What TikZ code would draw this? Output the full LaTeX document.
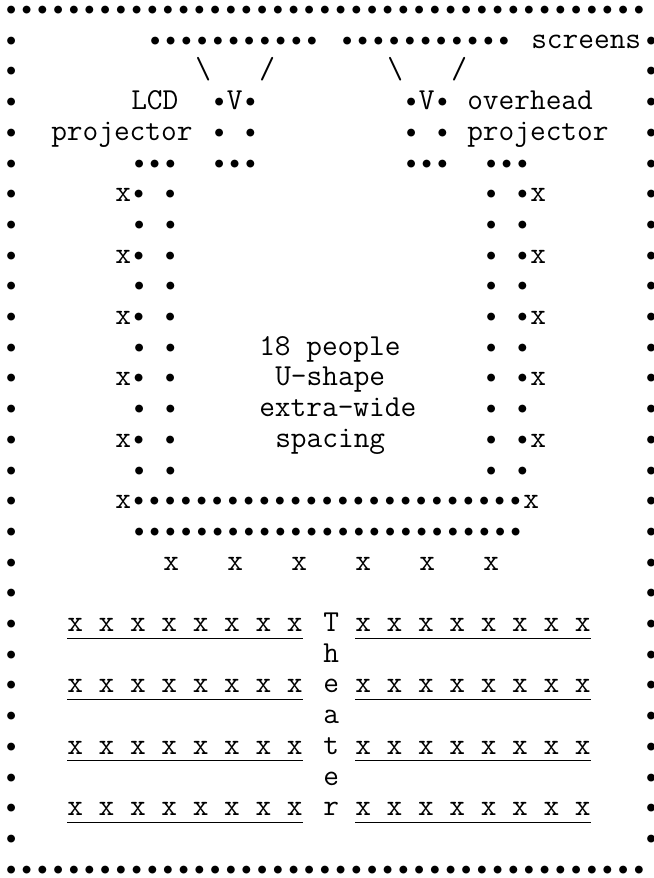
\documentclass[tikz,border=0pt]{standalone}
\newcommand\artfont{\fontsize{22.857pt}{24pt}\selectfont\ttfamily}

\begin{document}
\begin{tikzpicture}[x=12pt,y=-23.025pt,
  ch/.style={anchor=west,inner sep=0pt,text height=9.85pt,text depth=0pt,font=\artfont},
  uline/.style={line width=0.8pt}]
 \useasboundingbox (-0.1875,-0.358) rectangle (40.625,28.24);
 % walls of the room
 \node[ch] (top) at (0,0) {•••••••••••••••••••••••••••••••••••••••••};
 \node[ch] (bot) at (0,28) {•••••••••••••••••••••••••••••••••••••••••};
 \foreach \r in {1,...,27}{
   \node[ch] (wl\r) at (0,\r) {•};
   \node[ch] (wr\r) at (40,\r) {•};
 }
 % screens and projectors
 \node[ch] (scrL) at (9,1) {•••••••••••};
 \node[ch] (scrR) at (21,1) {•••••••••••};
 \node[ch] (scrT) at (33,1) {screens};
 \node[ch] (bL1) at (12,2) {\textbackslash};
 \node[ch] (bL2) at (16,2) {/};
 \node[ch] (bR1) at (24,2) {\textbackslash};
 \node[ch] (bR2) at (28,2) {/};
 \node[ch] (lcd) at (8,3) {LCD};
 \node[ch] (lcdp) at (3,4) {projector};
 \node[ch] (pL1) at (13,3) {•V•};
 \node[ch] (pL2) at (13,4) {• •};
 \node[ch] (pL3) at (13,5) {•••};
 \node[ch] (pR1) at (25,3) {•V•};
 \node[ch] (pR2) at (25,4) {• •};
 \node[ch] (pR3) at (25,5) {•••};
 \node[ch] (ovh) at (29,3) {overhead};
 \node[ch] (ovhp) at (29,4) {projector};
 % U-shape tables
 \node[ch] (tL0) at (8,5) {•••};
 \node[ch] (tR0) at (30,5) {•••};
 \foreach \r in {6,8,...,14}{
   \node[ch] (tL\r) at (7,\r) {x• •};
   \node[ch] (tR\r) at (30,\r) {• •x};
 }
 \foreach \r in {7,9,...,15}{
   \node[ch] (tL\r) at (8,\r) {• •};
   \node[ch] (tR\r) at (30,\r) {• •};
 }
 \node[ch] (tB1) at (7,16) {x•••••••••••••••••••••••••x};
 \node[ch] (tB2) at (8,17) {•••••••••••••••••••••••••};
 \foreach \c in {10,14,...,30}
   \node[ch] (sB\c) at (\c,18) {x};
 \node[ch] (info1) at (16,11) {18 people};
 \node[ch] (info2) at (17,12) {U-shape};
 \node[ch] (info3) at (16,13) {extra-wide};
 \node[ch] (info4) at (17,14) {spacing};
 % theater rows
 \foreach \r in {20,22,24,26}{
   \node[ch] (sl\r) at (4,\r) {x x x x x x x x};
   \node[ch] (sr\r) at (22,\r) {x x x x x x x x};
   \draw[uline] ([yshift=-9.8pt]sl\r.west) -- ([yshift=-9.8pt]sl\r.east);
   \draw[uline] ([yshift=-9.8pt]sr\r.west) -- ([yshift=-9.8pt]sr\r.east);
 }
 \foreach \l [count=\r from 20] in {T,h,e,a,t,e,r}
   \node[ch] (th\r) at (20,\r) {\l};
\end{tikzpicture}
\end{document}
